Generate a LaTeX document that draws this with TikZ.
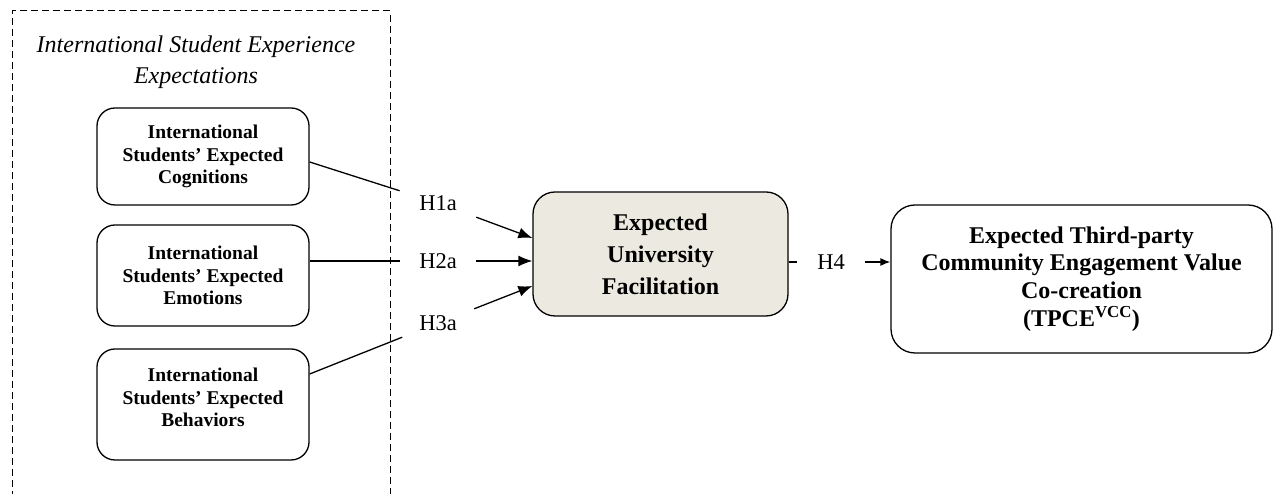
\documentclass[tikz,border=0pt]{standalone}
\usepackage{fontspec}
\setmainfont{Liberation Serif}
\usetikzlibrary{arrows.meta}
\definecolor{facfill}{RGB}{236,234,224}
\begin{document}
\begin{tikzpicture}[x=1pt,y=1pt,line width=1.3pt,inner sep=0pt,
    group/.style={line width=1pt,dash pattern=on 7pt off 4pt},
    expect/.style={draw,rounded corners=18pt,align=center,minimum width=212pt,
      font=\fontsize{19.5}{22.5}\selectfont\bfseries},
    facil/.style={draw,fill=facfill,rounded corners=22pt,align=center,
      minimum width=255pt,minimum height=124pt,font=\fontsize{24}{32}\selectfont\bfseries},
    outcome/.style={draw,rounded corners=24pt,align=center,
      minimum width=381pt,minimum height=148pt,font=\fontsize{24}{27.7}\selectfont\bfseries},
    hyp/.style={inner xsep=19pt,inner ysep=6pt,font=\fontsize{22.5}{27}\selectfont},
    link/.style={-{Latex[length=14pt,width=11pt]}}]
    \path[use as bounding box] (0,0) rectangle (1273,494);
    % dashed group of the three expectations
    \draw[group] (12,-4) -- (12,483) -- (390,483) -- (390,-4);
    \node[align=center,font=\fontsize{24}{31}\selectfont\itshape] (title) at (196,431.5)
      {International Student Experience\\Expectations};
    \node[expect,minimum height=97pt] (cog) at (203,337.5)
      {International\\Students’ Expected\\Cognitions};
    \node[expect,minimum height=101pt] (emo) at (203,218.5)
      {International\\Students’ Expected\\Emotions};
    \node[expect,minimum height=111pt] (beh) at (203,89.5)
      {International\\Students’ Expected\\Behaviors\\[-8pt]\mbox{}};
    \node[facil] (fac) at (660.5,240) {Expected\\University\\Facilitation};
    \node[outcome] (tpce) at (1081.5,215)
      {Expected Third-party\\Community Engagement Value\\Co-creation\\(TPCE\textsuperscript{VCC})};
    \node[hyp] (h1a) at (438,291) {H1a};
    \node[hyp] (h2a) at (438,233) {H2a};
    \node[hyp] (h3a) at (438,171) {H3a};
    \node[hyp,inner xsep=20pt] (h4) at (831,232) {H4};
    % hypotheses
    \draw ([yshift=-5.5pt]cog.east) -- (h1a);
    \draw (emo.east |- h2a) -- (h2a);
    \draw ([yshift=30.5pt]beh.east) -- (h3a);
    \draw[link] (h1a) -- ([yshift=16pt]fac.west);
    \draw[link] (h2a) -- (fac.west |- h2a);
    \draw[link] (h3a) -- ([yshift=-32pt]fac.west);
    \draw (fac.east |- h4) -- (h4);
    \draw[-{Latex[length=10pt,width=8pt]}] (h4) -- (tpce.west |- h4);
  \end{tikzpicture}
\end{document}
